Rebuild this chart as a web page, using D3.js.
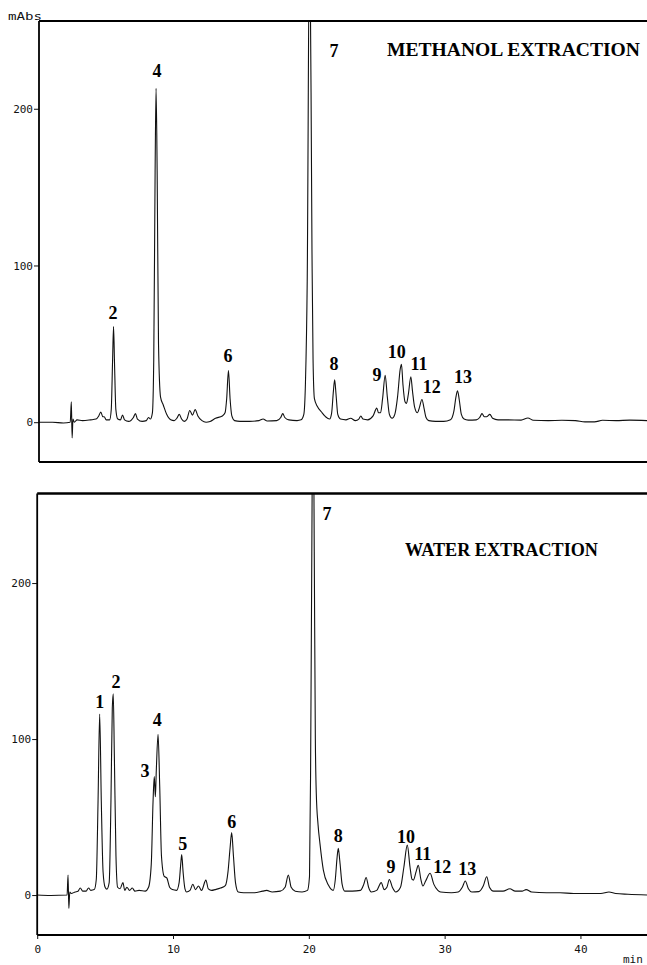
<!DOCTYPE html>
<html>
<head>
<meta charset="utf-8">
<script src="https://cdn.jsdelivr.net/npm/d3@7"></script>
<style>
  body { margin: 0; background: #fff; }
  .tick text { font-family: "DejaVu Sans Mono", monospace; font-size: 11px; fill: #111; }
  .peak { font-family: "Liberation Serif", serif; font-weight: bold; font-size: 18px; fill: #000; }
  .title { font-family: "Liberation Serif", serif; font-weight: bold; font-size: 18px; fill: #000; }
</style>
</head>
<body>
<div id="chart"></div>
<script>
// [time (min), absorbance (mAbs)]
const methanolTrace = [
  [0, 0], [1.0, 0], [1.8, -0.5], [2.3, 0], [2.38, 13], [2.44, -10], [2.5, 2], [2.6, 0],
  [2.8, 1.5], [3.2, 1], [3.8, 1.5], [4.2, 2], [4.4, 4], [4.55, 6.5], [4.7, 3.5], [4.8, 3.5],
  [4.95, 1.5], [5.2, 1.5], [5.32, 8], [5.42, 40], [5.49, 61], [5.56, 38], [5.66, 8], [5.8, 2],
  [6.0, 1.5], [6.15, 4.5], [6.3, 1.5], [6.6, 0.5], [6.95, 3], [7.1, 5.5], [7.25, 2], [7.6, 0.5],
  [7.9, 1], [8.07, 3], [8.2, 2], [8.35, 6], [8.45, 40], [8.55, 160], [8.62, 213], [8.7, 160],
  [8.8, 50], [8.95, 16], [9.15, 11], [9.4, 5], [9.7, 1.5], [9.95, 1], [10.15, 2.5], [10.33, 5],
  [10.5, 2], [10.7, 0.5], [10.9, 2], [11.1, 7.5], [11.3, 4.5], [11.5, 8], [11.7, 4], [12.0, 1],
  [12.3, 0], [12.6, 0.5], [13.0, 2.5], [13.5, 4], [13.7, 6], [13.82, 15], [13.95, 33], [14.07, 15],
  [14.2, 4], [14.4, 1], [14.8, 0.5], [15.5, 0.5], [16.2, 1], [16.5, 2], [16.8, 0.8], [17.5, 1],
  [17.8, 3], [17.95, 5.5], [18.1, 3], [18.4, 1.5], [19.0, 1], [19.3, 1.5], [19.5, 5], [19.62, 25],
  [19.75, 90], [19.93, 330], [20.1, 110], [20.18, 40], [20.28, 15], [20.5, 10], [20.8, 6.5],
  [21.1, 3.5], [21.4, 2], [21.55, 6], [21.68, 20], [21.77, 27], [21.87, 18], [22.0, 5], [22.2, 2],
  [22.6, 1.5], [22.95, 2.5], [23.3, 1], [23.55, 2], [23.7, 4], [23.85, 2], [24.2, 1.5], [24.6, 4],
  [24.87, 9], [25.0, 6], [25.15, 6], [25.3, 15], [25.49, 30], [25.65, 16], [25.8, 5], [26.0, 2.5],
  [26.2, 5], [26.4, 16], [26.6, 34], [26.69, 37], [26.8, 24], [26.95, 13], [27.06, 12], [27.2, 18],
  [27.38, 29], [27.5, 20], [27.65, 10], [27.87, 6], [28.0, 9], [28.2, 14.5], [28.35, 9], [28.5, 3],
  [28.7, 1], [29.2, 0.5], [29.8, 0.5], [30.3, 1.5], [30.55, 7], [30.7, 16], [30.82, 20], [30.95, 14],
  [31.1, 5], [31.3, 2], [31.6, 1.3], [32.2, 1.5], [32.45, 3], [32.62, 5.5], [32.8, 3.5], [32.95, 3.5],
  [33.2, 5], [33.4, 2.5], [33.8, 1.5], [34.5, 1.5], [35.5, 1.3], [36.0, 2.7], [36.4, 1.2], [37.5, 1],
  [38.5, 1.2], [39.5, 1], [40.2, 0.2], [40.9, 0.2], [41.5, 1.2], [42.5, 1], [43.5, 1.3], [44.8, 1]
];

const waterTrace = [
  [0, 0], [1.0, -0.3], [2.2, 0], [2.27, 12.8], [2.33, -8.5], [2.4, 2], [2.5, 1], [2.8, 2],
  [3.0, 2.5], [3.17, 4.5], [3.35, 2.5], [3.6, 2.5], [3.78, 4.5], [3.95, 3], [4.2, 3.5], [4.35, 10],
  [4.48, 60], [4.6, 116], [4.72, 60], [4.85, 15], [5.0, 5], [5.13, 3.8], [5.3, 8], [5.43, 60],
  [5.53, 120], [5.6, 129], [5.68, 90], [5.8, 25], [5.92, 5], [6.1, 4], [6.31, 8], [6.45, 3],
  [6.6, 5], [6.8, 3], [7.0, 4.5], [7.2, 2.5], [7.5, 3], [7.95, 2.5], [8.2, 5], [8.4, 20],
  [8.53, 60], [8.62, 76], [8.7, 63], [8.77, 80], [8.9, 103], [9.02, 70], [9.15, 25], [9.35, 12],
  [9.54, 11], [9.75, 5], [9.95, 3.5], [10.26, 3], [10.45, 8], [10.57, 20], [10.64, 26], [10.74, 15],
  [10.88, 4], [11.0, 2], [11.25, 3], [11.46, 6.9], [11.65, 3.5], [11.88, 5.8], [12.1, 3], [12.42, 9.6],
  [12.6, 4], [12.85, 3], [13.1, 3.5], [13.5, 4.5], [13.85, 6], [14.05, 15], [14.2, 30], [14.32, 40],
  [14.45, 25], [14.6, 8], [14.8, 2], [15.2, 1.5], [16.0, 1.5], [16.6, 2.5], [16.9, 3], [17.3, 2],
  [17.9, 2.5], [18.25, 5], [18.49, 12.8], [18.7, 5], [19.0, 2.5], [19.5, 2], [19.9, 3], [20.05, 12],
  [20.13, 80], [20.22, 220], [20.31, 340], [20.4, 220], [20.48, 100], [20.55, 65], [20.68, 45],
  [20.82, 33], [21.07, 16], [21.44, 6.4], [21.8, 3], [21.95, 10], [22.08, 24], [22.17, 30], [22.28, 22],
  [22.45, 7], [22.65, 2.5], [23.2, 2.5], [23.8, 3], [24.05, 7], [24.22, 11.3], [24.4, 5], [24.6, 2],
  [25.0, 3], [25.33, 8], [25.55, 3.5], [25.75, 5], [25.93, 10], [26.15, 5], [26.4, 2], [26.75, 5],
  [27.0, 18], [27.25, 32], [27.45, 18], [27.6, 10], [27.7, 9.6], [27.9, 15], [28.06, 19], [28.25, 10],
  [28.4, 5.8], [28.6, 9], [28.93, 14], [29.2, 7], [29.5, 3], [29.7, 2], [30.5, 1.5], [31.0, 2],
  [31.3, 5], [31.52, 9], [31.75, 4], [32.0, 2], [32.5, 2.2], [32.85, 6], [33.1, 11.7], [33.3, 5],
  [33.6, 2.5], [34.3, 2.5], [34.8, 4], [35.2, 2.5], [35.7, 2.5], [36.0, 3.5], [36.4, 2], [37.5, 1.5],
  [38.5, 1.5], [39.5, 1], [40.5, 1], [41.5, 1], [42.1, 2], [42.6, 1], [43.5, 0.5], [44.9, 0]
];

// [label, time, mAbs] where each peak number sits
const methanolLabels = [
  ["2", 5.45, 69.7], ["4", 8.69, 224], ["6", 13.92, 42.2], ["7", 21.72, 236.8],
  ["8", 21.72, 36.9], ["9", 24.89, 30.1], ["10", 26.34, 45], ["11", 27.98, 36.9],
  ["12", 28.92, 22.6], ["13", 31.22, 29]
];
const waterLabels = [
  ["1", 4.6, 123.7], ["2", 5.8, 136.7], ["3", 7.93, 79.5], ["4", 8.84, 112.2],
  ["5", 10.71, 33.1], ["6", 14.32, 47], ["7", 21.34, 244.2], ["8", 22.17, 37.8],
  ["9", 26.05, 17.8], ["10", 27.16, 37.4], ["11", 28.39, 26.7], ["12", 29.83, 18.1],
  ["13", 31.67, 16.5]
];

const yTicks = [0, 100, 200];
const xTicks = [0, 10, 20, 30, 40];
const titles = ["METHANOL EXTRACTION", "WATER EXTRACTION"];

const width = 647, height = 965;

const svg = d3.select("#chart")
  .append("svg")
  .attr("width", width)
  .attr("height", height);

function drawPanel(cfg) {
  let x = d3.scaleLinear()
    .domain([0, cfg.tMax])
    .range([cfg.left, cfg.right]);
  let y = d3.scaleLinear()
    .domain([cfg.vMin, cfg.vMax])
    .range([cfg.bottom, cfg.top]);

  const g = svg.append("g");

  g.append("clipPath")
    .attr("id", cfg.id + "-clip")
    .append("rect")
    .attr("x", cfg.left)
    .attr("y", cfg.top)
    .attr("width", cfg.right - cfg.left)
    .attr("height", cfg.bottom - cfg.top);

  const line = d3.line()
    .x((d) => x(d[0]))
    .y((d) => y(d[1]))
    .curve(d3.curveMonotoneX);

  g.append("path")
    .datum(cfg.trace)
    .attr("clip-path", `url(#${cfg.id}-clip)`)
    .attr("fill", "none")
    .attr("stroke", "#111")
    .attr("stroke-width", 1.1)
    .attr("d", line);

  // y axis
  const yAxis = g.append("g")
    .attr("transform", `translate(${cfg.left},0)`)
    .call(d3.axisLeft(y).tickValues(yTicks).tickSize(5).tickPadding(1));
  yAxis.select(".domain").remove();
  yAxis.selectAll(".tick line").attr("stroke", "#111");

  // frame: top, left, bottom
  g.append("line")
    .attr("x1", cfg.left).attr("x2", cfg.right)
    .attr("y1", cfg.top).attr("y2", cfg.top)
    .attr("stroke", "#000").attr("stroke-width", cfg.topWidth);
  g.append("line")
    .attr("x1", cfg.left).attr("x2", cfg.left)
    .attr("y1", cfg.top).attr("y2", cfg.bottom)
    .attr("stroke", "#000").attr("stroke-width", 1.8);
  g.append("line")
    .attr("x1", cfg.left).attr("x2", cfg.right)
    .attr("y1", cfg.bottom).attr("y2", cfg.bottom)
    .attr("stroke", "#000").attr("stroke-width", 2);

  if (cfg.xLabels) {
    const xAxis = g.append("g")
      .attr("transform", `translate(0,${cfg.bottom})`)
      .call(d3.axisBottom(x).tickValues(xTicks).tickSize(4).tickPadding(6));
    xAxis.select(".domain").remove();
    xAxis.selectAll(".tick line").attr("stroke", "#111");
  }

  g.selectAll("text.peak")
    .data(cfg.labels)
    .join("text")
    .attr("class", "peak")
    .attr("x", (d) => x(d[1]))
    .attr("y", (d) => y(d[2]))
    .attr("dy", "0.34em")
    .attr("text-anchor", "middle")
    .text((d) => d[0]);

  g.append("text")
    .attr("class", "title")
    .attr("x", cfg.titleX)
    .attr("y", cfg.titleY)
    .attr("textLength", cfg.titleLen)
    .attr("lengthAdjust", "spacingAndGlyphs")
    .text(cfg.title);
}

drawPanel({
  id: "methanol", trace: methanolTrace, labels: methanolLabels, title: titles[0],
  left: 39, right: 647, top: 21, bottom: 462, tMax: 44.77, vMin: -25.4, vMax: 256,
  topWidth: 2.2, xLabels: false, titleX: 387, titleY: 56, titleLen: 253
});

drawPanel({
  id: "water", trace: waterTrace, labels: waterLabels, title: titles[1],
  left: 37.2, right: 647, top: 493.5, bottom: 935, tMax: 44.9, vMin: -25.6, vMax: 257.4,
  topWidth: 2.6, xLabels: true, titleX: 405, titleY: 556, titleLen: 193
});

svg.append("text")
  .attr("x", 8)
  .attr("y", 19.5)
  .attr("textLength", 34)
  .attr("lengthAdjust", "spacingAndGlyphs")
  .style("font-family", "DejaVu Sans Mono, monospace")
  .style("font-size", "11px")
  .style("fill", "#111")
  .text("mAbs");

svg.append("text")
  .attr("x", 623)
  .attr("y", 963)
  .style("font-family", "DejaVu Sans Mono, monospace")
  .style("font-size", "11px")
  .style("fill", "#111")
  .text("min");
</script>
</body>
</html>
